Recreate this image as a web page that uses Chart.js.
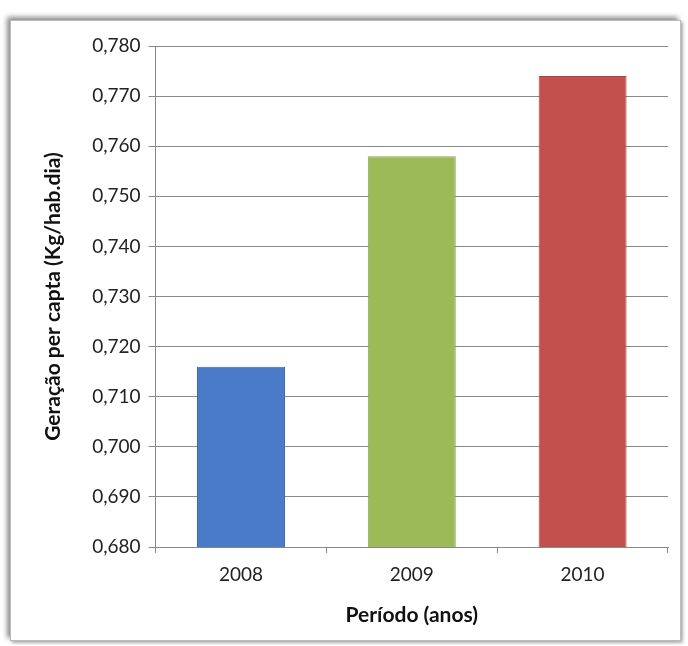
<!DOCTYPE html>
<html><head><meta charset="utf-8">
<script src="https://cdn.jsdelivr.net/npm/chart.js@4"></script>
<style>
html,body{margin:0;padding:0;background:#fff;width:688px;height:646px;overflow:hidden}
#frame{position:absolute;left:10px;top:20px;width:669px;height:619px;border:1px solid #bbb;box-shadow:-3px -3px 5px rgba(0,0,0,0.45),2px 2px 3px rgba(0,0,0,0.3);background:#fff}
#wrap{position:absolute;left:0;top:0;width:688px;height:646px}
</style></head>
<body>
<div id="frame"></div>
<div id="wrap"><canvas id="c" width="688" height="646"></canvas></div>
<script>
const categories = ['2008','2009','2010'];
const values = [0.716, 0.758, 0.774];
const barColors = ['#4a7bc8','#9bbb59','#c4504e'];
const barBorders = ['#3d68ad','#8aa94d','#a94442'];
const yTitle = 'Geração per capta (Kg/hab.dia)';
const xTitle = 'Período (anos)';
const yMin = 0.68, yMax = 0.78, yStep = 0.01;

const font = "Lato, 'Open Sans', sans-serif";
new Chart(document.getElementById('c'), {
  type: 'bar',
  data: { labels: categories, datasets: [{ data: values, backgroundColor: barColors, borderColor: barBorders, borderWidth: 1, categoryPercentage: 1, barPercentage: 0.515 }] },
  options: {
    responsive: false, animation: false,
    layout: { padding: { left: 37, right: 20, top: 46, bottom: 14 } },
    plugins: { legend: { display: false }, tooltip: { enabled: false } },
    scales: {
      x: {
        grid: { offset: true, drawOnChartArea: false, color: '#888', tickLength: 6 },
        border: { color: '#888' },
        ticks: { color: '#222', font: { family: font, size: 19 }, padding: 10 },
        title: { display: true, text: xTitle, color: '#111', font: { family: font, size: 21, weight: 'bold' }, padding: { top: 7 } }
      },
      y: {
        min: yMin, max: yMax,
        grid: { color: '#8a8a8a', tickLength: 7 },
        border: { color: '#888' },
        ticks: { stepSize: yStep, color: '#222', font: { family: font, size: 19 }, padding: 8,
          callback: v => v.toFixed(3).replace('.', ',') },
        title: { display: true, text: yTitle, color: '#111', font: { family: font, size: 21, weight: 'bold' }, padding: { bottom: 18 } }
      }
    }
  }
});
</script>
</body></html>
